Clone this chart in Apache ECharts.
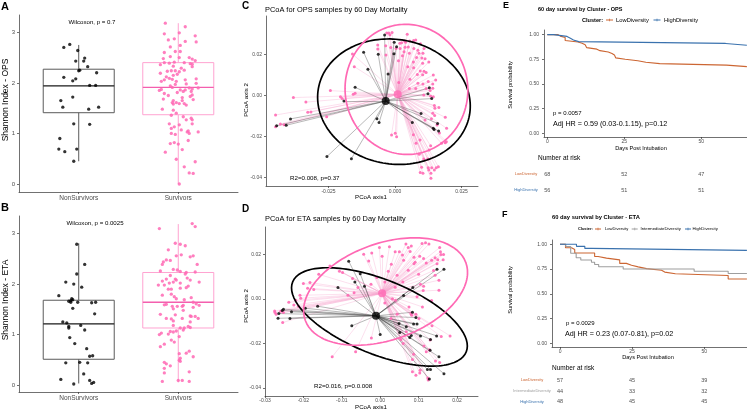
<!DOCTYPE html>
<html><head><meta charset="utf-8">
<script src="https://cdn.jsdelivr.net/npm/echarts@6/dist/echarts.min.js"></script>
<style>html,body{margin:0;padding:0;background:#fff}#c{width:747px;height:410px}</style>
</head><body><div id="c"></div>
<script>
// ================= DATA =================
const boxCategories = ['NonSurvivors', 'Survivors'];
const shannonTicks = [0, 1, 2, 3];
// box stats: [category position, min, q1, median, q3, max]
const opsBoxes = [[1, 0.45, 1.41, 1.94, 2.27, 2.75], [2, 0.00, 1.37, 1.91, 2.40, 3.18]];
const etaBoxes = [[1, 0.03, 0.51, 1.21, 1.68, 2.81], [2, 0.05, 1.13, 1.64, 2.23, 3.19]];
// jittered points: [jittered category position, Shannon index]
const opsNonSurv = [[0.85,2.70],[0.91,2.76],[0.99,2.64],[0.97,2.43],[1.05,2.43],[1.06,2.49],[1.09,2.32],[1.01,2.25],[1.00,2.24],[0.85,2.11],[0.94,2.04],[0.97,2.08],[1.18,2.20],[1.11,1.95],[1.17,1.95],[0.82,1.65],[0.94,1.72],[0.84,1.52],[1.10,1.48],[1.20,1.52],[0.95,1.19],[0.81,0.90],[1.11,1.18],[0.80,0.69],[0.86,0.64],[0.98,0.69],[0.95,0.45]];
const opsSurv = [[1.87,3.18],[2.07,3.11],[1.86,2.97],[2.01,2.99],[2.17,2.93],[1.90,2.85],[1.96,2.87],[2.18,2.81],[2.07,2.82],[1.92,2.71],[2.02,2.74],[1.97,2.62],[1.86,2.60],[2.02,2.62],[1.92,2.52],[1.85,2.48],[2.01,2.50],[2.11,2.50],[2.14,2.47],[2.17,2.44],[1.86,2.40],[1.91,2.39],[1.96,2.41],[2.06,2.40],[2.12,2.38],[2.14,2.37],[2.14,2.32],[1.82,2.36],[1.95,2.33],[2.03,2.29],[2.06,2.25],[1.97,2.24],[2.01,2.22],[1.93,2.24],[1.89,2.23],[1.82,2.19],[1.88,2.12],[1.91,2.09],[1.95,2.15],[1.99,2.17],[1.94,2.07],[1.86,2.06],[2.18,2.08],[1.83,2.03],[1.98,2.03],[2.07,2.06],[1.97,1.97],[2.08,1.98],[2.18,1.99],[2.11,1.90],[2.20,1.90],[1.92,1.94],[1.94,1.91],[1.83,1.87],[1.81,1.85],[2.14,1.88],[2.02,1.86],[2.07,1.86],[2.05,1.83],[1.86,1.79],[1.90,1.75],[1.99,1.81],[2.04,1.71],[2.13,1.83],[2.12,1.73],[2.15,1.67],[2.14,1.76],[1.95,1.65],[2.04,1.65],[1.85,1.68],[1.94,1.61],[1.98,1.61],[2.01,1.59],[2.06,1.59],[1.95,1.58],[1.84,1.48],[1.95,1.46],[2.08,1.56],[1.98,1.40],[2.08,1.27],[2.05,1.33],[1.93,1.36],[2.13,1.30],[2.14,1.27],[1.91,1.19],[2.01,1.17],[1.93,1.10],[1.96,1.13],[2.14,1.19],[2.10,1.05],[1.93,1.00],[2.03,1.07],[2.09,1.03],[2.11,1.00],[2.20,1.03],[1.97,0.98],[2.10,0.86],[1.96,0.82],[1.92,0.80],[2.00,0.79],[2.04,0.68],[1.87,0.63],[1.98,0.49],[2.17,0.44],[2.06,0.34],[2.11,0.22],[2.15,0.21],[2.01,0.00]];
const etaNonSurv = [[0.98,2.79],[1.06,2.39],[0.98,2.20],[0.87,2.04],[0.95,2.00],[1.03,1.94],[0.80,1.77],[0.93,1.71],[0.94,1.69],[0.92,1.67],[0.92,1.64],[0.99,1.64],[0.90,1.66],[1.13,1.63],[1.17,1.64],[0.94,1.52],[1.16,1.41],[0.84,1.25],[0.88,1.23],[0.90,1.13],[0.90,1.16],[1.02,1.18],[0.91,0.94],[1.06,1.09],[0.96,0.82],[1.08,0.72],[1.14,0.58],[1.11,0.57],[0.87,0.44],[1.01,0.45],[1.09,0.44],[1.05,0.22],[0.82,0.11],[1.11,0.09],[1.15,0.05],[1.13,0.03],[0.95,0.02]];
const etaSurv = [[2.14,3.20],[2.17,3.14],[1.81,3.10],[1.97,2.81],[2.02,2.79],[2.07,2.76],[1.90,2.68],[1.85,2.44],[1.84,2.39],[1.88,2.48],[1.92,2.47],[2.03,2.58],[1.98,2.56],[2.12,2.54],[2.15,2.56],[2.19,2.39],[1.95,2.29],[1.99,2.28],[2.07,2.20],[2.08,2.23],[2.17,2.24],[2.02,2.25],[1.82,2.26],[1.92,2.17],[1.97,2.10],[1.88,2.10],[1.98,2.08],[2.09,2.12],[2.12,2.08],[1.84,2.06],[1.95,2.04],[1.91,2.02],[2.02,2.02],[1.86,1.98],[1.80,1.98],[2.21,2.04],[2.02,1.92],[2.08,1.93],[2.10,1.96],[1.90,1.90],[1.93,1.90],[1.93,1.80],[1.84,1.78],[1.96,1.75],[1.98,1.71],[2.06,1.69],[2.13,1.73],[1.86,1.59],[1.94,1.56],[1.99,1.56],[2.04,1.56],[2.05,1.58],[1.88,1.60],[2.15,1.64],[2.21,1.58],[2.18,1.61],[2.15,1.54],[1.95,1.51],[2.05,1.48],[1.82,1.40],[1.97,1.39],[2.12,1.37],[2.13,1.36],[2.17,1.36],[2.20,1.32],[2.12,1.25],[2.04,1.32],[1.88,1.32],[1.93,1.31],[1.95,1.27],[1.95,1.18],[2.02,1.13],[2.10,1.16],[1.83,1.03],[1.90,1.01],[1.95,1.05],[1.92,1.06],[1.98,1.07],[2.01,0.96],[2.06,1.13],[2.12,1.14],[2.05,1.09],[1.81,1.00],[1.96,0.85],[1.82,0.76],[1.86,0.81],[1.93,0.89],[2.01,0.62],[2.08,0.63],[2.11,0.67],[2.02,0.53],[2.15,0.56],[1.86,0.45],[1.88,0.42],[2.01,0.49],[2.02,0.47],[1.92,0.38],[1.86,0.33],[1.86,0.24],[2.11,0.26],[2.00,0.09],[2.11,0.07],[1.84,0.07],[2.04,0.09]];

// PCoA OPS
const opsPcoaTicksX = [-0.025, 0, 0.025];
const opsPcoaTicksY = [-0.04, -0.02, 0, 0.02];
const opsPcoaNon = [[-0.0039,0.0294],[-0.0003,0.0259],[0.0006,0.0237],[-0.0004,0.0203],[-0.0118,0.0210],[-0.0063,0.0200],[-0.0102,0.0127],[-0.0026,0.0104],[-0.0150,0.0039],[0.0129,0.0037],[0.0124,0.0008],[-0.0192,-0.0028],[0.0138,-0.0016],[0.0098,-0.0089],[-0.0393,-0.0115],[-0.0445,-0.0148],[-0.0409,-0.0146],[-0.0068,-0.0114],[-0.0060,-0.0133],[0.0065,-0.0132],[0.0144,-0.0161],[0.0147,-0.0167],[0.0160,-0.0137],[0.0164,-0.0174],[-0.0256,-0.0299],[-0.0164,-0.0309]];
const opsPcoaSurv = [[-0.0031,0.0304],[-0.0023,0.0304],[-0.0011,0.0307],[-0.0019,0.0296],[0.0046,0.0298],[-0.0065,0.0246],[0.0036,0.0265],[0.0055,0.0265],[0.0070,0.0268],[0.0078,0.0270],[0.0018,0.0254],[0.0025,0.0257],[0.0040,0.0259],[0.0096,0.0252],[-0.0065,0.0226],[-0.0035,0.0242],[-0.0016,0.0233],[0.0004,0.0229],[0.0019,0.0228],[0.0038,0.0234],[0.0050,0.0236],[0.0071,0.0228],[0.0086,0.0220],[0.0109,0.0228],[-0.0160,0.0202],[0.0034,0.0213],[0.0054,0.0205],[0.0090,0.0205],[0.0105,0.0205],[-0.0034,0.0197],[0.0028,0.0193],[0.0081,0.0185],[0.0101,0.0182],[0.0113,0.0179],[0.0013,0.0169],[0.0069,0.0163],[0.0104,0.0156],[0.0127,0.0163],[-0.0153,0.0140],[0.0048,0.0140],[0.0070,0.0135],[0.0095,0.0119],[0.0109,0.0117],[0.0084,0.0102],[0.0104,0.0101],[0.0117,0.0111],[0.0056,0.0078],[0.0125,0.0068],[0.0144,0.0099],[0.0014,0.0062],[0.0086,0.0059],[0.0105,0.0055],[0.0142,0.0055],[0.0153,0.0075],[0.0054,0.0033],[0.0078,0.0033],[0.0117,0.0033],[0.0132,0.0024],[0.0142,0.0034],[-0.0243,0.0023],[-0.0205,-0.0007],[-0.0199,-0.0015],[-0.0157,0.0005],[-0.0150,0.0010],[0.0108,0.0002],[0.0134,-0.0003],[0.0144,-0.0007],[-0.0382,-0.0011],[-0.0335,-0.0033],[-0.0328,-0.0083],[-0.0316,-0.0081],[-0.0257,-0.0104],[-0.0449,-0.0096],[-0.0449,-0.0153],[-0.0431,-0.0140],[-0.0417,-0.0143],[0.0148,-0.0049],[0.0150,-0.0063],[0.0165,-0.0059],[0.0142,-0.0088],[0.0149,-0.0098],[0.0137,-0.0114],[0.0189,-0.0107],[0.0113,-0.0120],[0.0158,-0.0145],[0.0194,-0.0161],[0.0167,-0.0184],[0.0001,-0.0185],[-0.0013,-0.0193],[0.0006,-0.0202],[0.0069,-0.0192],[0.0094,-0.0218],[0.0079,-0.0234],[0.0175,-0.0234],[0.0189,-0.0231],[0.0193,-0.0226],[0.0134,-0.0246],[0.0128,-0.0267],[0.0091,-0.0288],[0.0108,-0.0311],[0.0123,-0.0311],[0.0138,-0.0353],[0.0125,-0.0353],[0.0100,-0.0351],[0.0155,-0.0353],[0.0095,-0.0376],[0.0105,-0.0380],[0.0127,-0.0364],[0.0135,-0.0380],[0.0135,-0.0405],[0.0163,-0.0348],[0.0148,-0.0364]];
const opsCentroids = [[-0.0035, -0.0028], [0.0010, 0.0005]];
// ellipse: [centerX, centerY, axis1X, axis1Y, axis2X, axis2Y]
const opsEllipses = [[-0.0004, -0.0031, 0.0284, -0.0065, 0.0041, 0.0299], [0.0043, 0.0029, 0.0228, 0.0046, -0.0036, 0.0314]];
const opsStat = 'R2=0.008, p=0.37';

// PCoA ETA
const etaPcoaTicksX = [-0.03, -0.02, -0.01, 0, 0.01, 0.02];
const etaPcoaTicksY = [-0.04, -0.02, 0, 0.02];
const etaPcoaNon = [[-0.0082,0.0169],[-0.0052,0.0113],[-0.0066,0.0076],[-0.0041,0.0057],[-0.0110,0.0051],[-0.0163,-0.0033],[-0.0195,-0.0042],[-0.0252,-0.0046],[-0.0255,-0.0052],[-0.0231,-0.0058],[-0.0264,-0.0066],[-0.0266,-0.0087],[-0.0235,-0.0088],[-0.0074,-0.0121],[0.0000,-0.0160],[0.0061,0.0015],[0.0085,0.0051],[0.0148,0.0133],[0.0166,0.0133],[0.0084,-0.0060],[0.0093,-0.0084],[0.0049,-0.0110],[0.0068,-0.0125],[0.0051,-0.0151],[0.0077,-0.0173],[0.0105,-0.0167],[0.0081,-0.0164],[0.0096,-0.0113],[0.0087,-0.0113],[0.0131,-0.0182],[0.0147,-0.0166],[0.0130,-0.0231],[0.0131,-0.0317],[0.0123,-0.0317],[0.0128,-0.0360],[0.0166,-0.0336],[0.0153,-0.0260]];
const etaPcoaSurv = [[-0.0002,0.0230],[0.0024,0.0234],[0.0067,0.0246],[0.0073,0.0231],[0.0081,0.0237],[0.0078,0.0213],[0.0109,0.0248],[0.0118,0.0252],[0.0127,0.0246],[0.0155,0.0230],[0.0157,0.0211],[0.0158,0.0199],[-0.0043,0.0200],[-0.0022,0.0206],[0.0005,0.0191],[0.0050,0.0211],[0.0039,0.0211],[0.0058,0.0197],[0.0088,0.0187],[0.0103,0.0191],[0.0143,0.0185],[0.0150,0.0176],[0.0164,0.0176],[0.0165,0.0199],[0.0134,0.0173],[0.0120,0.0161],[0.0113,0.0181],[0.0091,0.0164],[0.0061,0.0173],[0.0029,0.0155],[-0.0030,0.0170],[-0.0131,0.0148],[-0.0106,0.0124],[-0.0098,0.0118],[-0.0160,0.0110],[-0.0183,0.0073],[-0.0200,0.0069],[-0.0173,0.0042],[-0.0189,0.0048],[-0.0209,0.0016],[-0.0207,0.0003],[-0.0220,-0.0006],[-0.0225,-0.0028],[-0.0238,-0.0015],[-0.0213,-0.0033],[-0.0084,0.0016],[-0.0068,0.0028],[-0.0072,0.0091],[-0.0058,0.0051],[-0.0024,0.0066],[0.0012,0.0076],[0.0039,0.0052],[0.0113,0.0057],[0.0153,0.0084],[0.0139,0.0127],[0.0143,0.0106],[0.0105,0.0066],[0.0112,0.0037],[0.0096,0.0010],[0.0134,-0.0007],[0.0153,0.0039],[0.0110,-0.0036],[0.0080,-0.0067],[0.0093,-0.0069],[-0.0275,-0.0054],[-0.0274,-0.0061],[-0.0259,-0.0055],[-0.0252,-0.0061],[-0.0254,-0.0106],[-0.0271,-0.0069],[-0.0023,-0.0175],[-0.0064,-0.0237],[-0.0125,-0.0260],[0.0068,-0.0148],[0.0054,-0.0182],[0.0060,-0.0200],[0.0135,-0.0121],[0.0130,-0.0185],[0.0159,-0.0169],[0.0182,-0.0166],[0.0120,-0.0237],[0.0144,-0.0279],[0.0155,-0.0285],[0.0104,-0.0320],[0.0093,-0.0343],[0.0103,-0.0333],[0.0084,-0.0327],[0.0125,-0.0364],[0.0124,-0.0355],[0.0114,-0.0211],[0.0128,-0.0228],[0.0087,-0.0248],[0.0084,-0.0272],[0.0101,-0.0088],[0.0082,-0.0073],[0.0075,-0.0036],[0.0044,-0.0069],[0.0028,-0.0088],[0.0012,-0.0019],[0.0040,-0.0006],[0.0032,0.0000],[0.0100,0.0110],[0.0148,0.0158],[0.0021,0.0124],[0.0044,0.0106],[0.0073,0.0128],[0.0088,0.0158],[0.0059,0.0076],[-0.0009,0.0096]];
const etaCentroids = [[-0.0011, -0.0076], [0.0005, 0.0025]];
const etaEllipses = [[-0.0002, -0.0081, 0.0226, -0.0157, 0.00365, 0.0155], [0.0014, 0.0033, 0.0209, 0.0130, -0.00435, 0.0203]];
const etaStat = 'R2=0.016, p=0.0.008';

// Kaplan-Meier: [day, survival probability]
const kmTicksX = [0, 25, 50];
const kmTicksY = [0, 0.25, 0.5, 0.75, 1];
const opsGroups = ['LowDiversity', 'HighDiversity'];
const opsKM = [
  [[0,1],[3.5,0.985],[4.2,0.971],[5.8,0.941],[6.4,0.926],[10,0.912],[11.3,0.897],[12.3,0.882],[12.8,0.868],[13.2,0.853],[16.1,0.838],[17.1,0.824],[19.8,0.809],[21,0.794],[21.8,0.779],[22.2,0.765],[22.6,0.750],[25.3,0.735],[29.4,0.721],[32,0.706],[36.5,0.691],[58.2,0.676],[64.8,0.676]],
  [[0,1],[2,0.982],[6.4,0.964],[7.5,0.946],[8.5,0.929],[10.2,0.911],[57.9,0.893],[64.8,0.893]]
];
const opsRiskTimes = [0, 25, 50];
const opsRisk = [[68, 52, 47], [56, 51, 51]];
const opsPText = 'p = 0.0057';
const opsHR = 'Adj HR = 0.59 (0.03-0.1.15), p=0.12';

const etaGroups = ['LowDiversity', 'IntermediateDiversity', 'HighDiversity'];
const etaKM = [
  [[0,1],[1.9,0.965],[4,0.947],[5.1,0.912],[12,0.877],[13.2,0.860],[16.1,0.842],[20.7,0.807],[23,0.789],[24.8,0.772],[27.1,0.754],[30,0.737],[35.2,0.719],[36.3,0.702],[40,0.684],[58.3,0.649],[64.8,0.649]],
  [[0,1],[2,0.977],[3.7,0.909],[5.6,0.864],[7.2,0.841],[10.9,0.818],[12,0.795],[13.4,0.773],[21.9,0.750],[46.5,0.727],[58.3,0.705],[64.8,0.705]],
  [[0,1],[5.7,0.979],[8.6,0.958],[10.9,0.938],[64.8,0.938]]
];
const etaRiskTimes = [0, 25, 50];
const etaRisk = [[57, 45, 39], [44, 33, 32], [48, 45, 45]];
const etaPText = 'p = 0.0029';
const etaHR = 'Adj HR = 0.23 (0.07-0.81), p=0.02';

// ================= STYLE / BUILD =================
const FF = '"Liberation Sans", Arial, Helvetica, sans-serif';
const BLACK = '#000000', PINK = '#FF69B4';
const GROUP_COL = {LowDiversity: '#CC6633', IntermediateDiversity: '#9E9E9E', HighDiversity: '#3A72AE'};
const AX = '#333333';

function vAxis(gi, min, max, ticks, fmt, fs, margin, extra) {
  return Object.assign({
    type: 'value', gridIndex: gi, min: min, max: max,
    axisLine: {show: true, onZero: false, lineStyle: {color: AX, width: 0.7}},
    axisTick: {show: true, length: 2, customValues: ticks, lineStyle: {color: AX, width: 0.7}},
    axisLabel: {show: true, customValues: ticks, formatter: fmt, fontSize: fs, color: '#4d4d4d', fontFamily: FF, margin: margin},
    splitLine: {show: false}
  }, extra || {});
}
function hiddenAxis(gi, min, max) {
  return {type: 'value', gridIndex: gi, min: min, max: max, show: false, splitLine: {show: false}};
}
function ellipsePts(e) {
  const pts = [];
  for (let i = 0; i <= 160; i++) {
    const t = i / 160 * 2 * Math.PI;
    pts.push([e[0] + e[2] * Math.cos(t) + e[4] * Math.sin(t), e[1] + e[3] * Math.cos(t) + e[5] * Math.sin(t)]);
  }
  return pts;
}
function boxSeries(ai, boxes, strokes, medians) {
  return {
    type: 'custom', xAxisIndex: ai, yAxisIndex: ai, data: boxes, silent: true,
    encode: {x: 0, y: [1, 2, 3, 4, 5]},
    renderItem: function (params, api) {
      const i = params.dataIndex, x = api.value(0);
      const pMin = api.coord([x, api.value(1)]), pQ1 = api.coord([x, api.value(2)]);
      const pMed = api.coord([x, api.value(3)]), pQ3 = api.coord([x, api.value(4)]);
      const pMax = api.coord([x, api.value(5)]);
      const hw = 35.5, c = strokes[i];
      return {type: 'group', children: [
        {type: 'line', shape: {x1: pMin[0], y1: pMin[1], x2: pQ1[0], y2: pQ1[1]}, style: {stroke: c, lineWidth: 1}},
        {type: 'line', shape: {x1: pQ3[0], y1: pQ3[1], x2: pMax[0], y2: pMax[1]}, style: {stroke: c, lineWidth: 1}},
        {type: 'rect', shape: {x: pQ3[0] - hw, y: pQ3[1], width: 2 * hw, height: pQ1[1] - pQ3[1]}, style: {fill: 'none', stroke: c, lineWidth: 1}},
        {type: 'line', shape: {x1: pMed[0] - hw, y1: pMed[1], x2: pMed[0] + hw, y2: pMed[1]}, style: {stroke: medians[i], lineWidth: 1.3}}
      ]};
    }
  };
}
function T(text, x, y, size, o) {
  o = o || {};
  const al = o.align || 'left', va = o.va || 'middle';
  return {type: 'text', x: x, y: y, rotation: o.rot || 0, silent: true, z: 100,
    style: {text: text, font: (o.bold ? 'bold ' : '') + size + 'px ' + FF, fill: o.color || '#000',
      textAlign: al, textVerticalAlign: va, align: al, verticalAlign: va}};
}
function keyMark(cx, cy, color, hw) {
  return [
    {type: 'line', silent: true, z: 100, shape: {x1: cx - hw, y1: cy, x2: cx + hw, y2: cy}, style: {stroke: color, lineWidth: 1}},
    {type: 'line', silent: true, z: 100, shape: {x1: cx, y1: cy - 1.3, x2: cx, y2: cy + 1.3}, style: {stroke: color, lineWidth: 0.7}}
  ];
}

// grids: 0 A, 1 B, 2 C, 3 D, 4 E, 5 F, 6 E-risk, 7 F-risk
const grid = [
  {left: 19, top: 15, width: 219, height: 177},
  {left: 19, top: 216, width: 219, height: 176},
  {left: 266, top: 16, width: 212, height: 170},
  {left: 265, top: 227, width: 213, height: 169},
  {left: 544, top: 30, width: 203, height: 107},
  {left: 552, top: 240, width: 195, height: 107},
  {left: 544, top: 166, width: 203, height: 32},
  {left: 552, top: 375, width: 195, height: 32}
];
const catFmt = v => boxCategories[Math.round(v) - 1];
const f2 = v => (Math.abs(v) < 1e-9 ? '0.00' : v.toFixed(2));
const f3 = v => (Math.abs(v) < 1e-9 ? '0.000' : v.toFixed(3));

const xAxis = [
  vAxis(0, 0.4, 2.6, [1, 2], catFmt, 6.5, 2.5),
  vAxis(1, 0.4, 2.6, [1, 2], catFmt, 6.5, 2.5),
  vAxis(2, -0.0485, 0.0312, opsPcoaTicksX, f3, 5, 3),
  vAxis(3, -0.0300, 0.02547, etaPcoaTicksX, f2, 5, 2),
  vAxis(4, -1.07, 64.84, kmTicksX, v => String(v), 5, 2.5),
  vAxis(5, -2.78, 64.83, kmTicksX, v => String(v), 5, 2.5),
  hiddenAxis(6, -1.07, 64.84),
  hiddenAxis(7, -2.78, 64.83)
];
function riskY(gi, groups, margin) {
  return {type: 'category', gridIndex: gi, data: groups, inverse: true,
    axisLine: {show: false}, axisTick: {show: false}, splitLine: {show: false},
    axisLabel: {show: true, fontSize: 4, fontFamily: FF, align: 'center', margin: margin,
      color: (val) => GROUP_COL[val]}};
}
const yAxis = [
  vAxis(0, -0.158, 3.342, shannonTicks, v => String(v), 6, 4),
  vAxis(1, -0.139, 3.35, shannonTicks, v => String(v), 6, 4),
  vAxis(2, -0.04423, 0.0387, opsPcoaTicksY, f2, 5, 4),
  vAxis(3, -0.04357, 0.03224, etaPcoaTicksY, f2, 5, 4),
  vAxis(4, -0.037, 1.047, kmTicksY, f2, 5, 5),
  vAxis(5, -0.037, 1.043, kmTicksY, f2, 5, 5),
  riskY(6, opsGroups, 18),
  riskY(7, etaGroups, 20)
];

const series = [];
// --- A & B boxplots ---
[[0, opsBoxes, opsNonSurv, opsSurv], [1, etaBoxes, etaNonSurv, etaSurv]].forEach(([ai, boxes, non, surv]) => {
  series.push(boxSeries(ai, boxes, ['#5a5a5a', '#FFA3D1'], ['#1a1a1a', '#F45FAE']));
  series.push({type: 'scatter', xAxisIndex: ai, yAxisIndex: ai, data: non, symbolSize: 3.3, silent: true,
    itemStyle: {color: BLACK}});
  series.push({type: 'scatter', xAxisIndex: ai, yAxisIndex: ai, data: surv, symbolSize: 3.3, silent: true,
    itemStyle: {color: PINK, opacity: 0.85}});
});
// --- C & D PCoA ---
[[2, opsPcoaNon, opsPcoaSurv, opsCentroids, opsEllipses], [3, etaPcoaNon, etaPcoaSurv, etaCentroids, etaEllipses]].forEach(([ai, non, surv, cen, ell]) => {
  series.push({type: 'lines', coordinateSystem: 'cartesian2d', xAxisIndex: ai, yAxisIndex: ai, silent: true,
    data: surv.map(p => ({coords: [p, cen[1]]})), lineStyle: {color: '#F6A5CF', width: 0.5, opacity: 0.7}});
  series.push({type: 'lines', coordinateSystem: 'cartesian2d', xAxisIndex: ai, yAxisIndex: ai, silent: true,
    data: non.map(p => ({coords: [p, cen[0]]})), lineStyle: {color: '#444', width: 0.5, opacity: 0.75}});
  series.push({type: 'scatter', xAxisIndex: ai, yAxisIndex: ai, data: surv, symbolSize: 3, silent: true,
    itemStyle: {color: PINK, opacity: 0.9}});
  series.push({type: 'scatter', xAxisIndex: ai, yAxisIndex: ai, data: non, symbolSize: 3, silent: true,
    itemStyle: {color: BLACK}});
  series.push({type: 'line', xAxisIndex: ai, yAxisIndex: ai, data: ellipsePts(ell[0]), symbol: 'none', silent: true,
    lineStyle: {color: BLACK, width: 1.7}});
  series.push({type: 'line', xAxisIndex: ai, yAxisIndex: ai, data: ellipsePts(ell[1]), symbol: 'none', silent: true,
    lineStyle: {color: PINK, width: 1.7}});
  series.push({type: 'scatter', xAxisIndex: ai, yAxisIndex: ai, data: [cen[0]], symbolSize: 8, silent: true, itemStyle: {color: BLACK}});
  series.push({type: 'scatter', xAxisIndex: ai, yAxisIndex: ai, data: [cen[1]], symbolSize: 8, silent: true, itemStyle: {color: PINK}});
});
// --- E & F KM ---
[[4, 6, opsGroups, opsKM, opsRiskTimes, opsRisk], [5, 7, etaGroups, etaKM, etaRiskTimes, etaRisk]].forEach(([ai, ri, groups, km, times, risk]) => {
  groups.forEach((g, gi) => {
    series.push({type: 'line', xAxisIndex: ai, yAxisIndex: ai, step: 'end', data: km[gi], symbol: 'none', silent: true,
      lineStyle: {color: GROUP_COL[g], width: 1.1}});
    series.push({type: 'scatter', xAxisIndex: ri, yAxisIndex: ri, silent: true, symbolSize: 1,
      itemStyle: {color: 'rgba(0,0,0,0)'},
      data: times.map((t, k) => [t, g, risk[gi][k]]),
      label: {show: true, position: 'inside', formatter: p => String(p.value[2]), fontSize: 5.5, fontFamily: FF, color: '#222'}});
  });
});

// --- text ---
const graphic = [
  T('A', 1, 1, 11, {bold: true, va: 'top'}),
  T('B', 1, 202, 11, {bold: true, va: 'top'}),
  T('C', 242, 1, 10, {bold: true, va: 'top'}),
  T('D', 242, 204, 10, {bold: true, va: 'top'}),
  T('E', 503, 1, 9, {bold: true, va: 'top'}),
  T('F', 502, 210, 9, {bold: true, va: 'top'}),
  T('Wilcoxon, p = 0.7', 92, 22, 6.1, {align: 'center'}),
  T('Wilcoxon, p = 0.0025', 95, 223, 6.1, {align: 'center'}),
  T('Shannon Index - OPS', 6, 100, 8.5, {align: 'center', rot: Math.PI / 2}),
  T('Shannon Index - ETA', 6, 300, 8.5, {align: 'center', rot: Math.PI / 2}),
  T('PCoA for OPS samples by 60 Day Mortality', 265, 10, 7.4),
  T('PCoA for ETA samples by 60 Day Mortality', 265, 219, 7.4),
  T(opsStat, 290, 178, 6.2),
  T(etaStat, 314, 386, 6.2),
  T('PCoA axis1', 371, 197, 6.1, {align: 'center'}),
  T('PCoA axis1', 371, 407, 6.1, {align: 'center'}),
  T('PCoA axis 2', 246, 100, 6.1, {align: 'center', rot: Math.PI / 2}),
  T('PCoA axis 2', 246, 306, 6.1, {align: 'center', rot: Math.PI / 2}),
  T('60 day survival by Cluster - OPS', 538, 9, 5.5, {bold: true}),
  T('60 day survival by Cluster - ETA', 552, 217, 5.8, {bold: true}),
  T('Survival probability', 510, 85, 5.7, {align: 'center', rot: Math.PI / 2}),
  T('Survival probability', 510, 290, 5.7, {align: 'center', rot: Math.PI / 2}),
  T('Days Post Intubation', 641, 148, 5.6, {align: 'center'}),
  T('Days Post Intubation', 648, 357, 5.6, {align: 'center'}),
  T(opsPText, 553, 113, 6),
  T(opsHR, 553, 124, 7.2),
  T(etaPText, 566, 323, 6),
  T(etaHR, 565, 334, 7.2),
  T('Number at risk', 538, 158, 6.5),
  T('Number at risk', 552, 368, 6.5),
  // legends
  T('Cluster:', 582, 20, 5.6, {bold: true}),
  ...keyMark(609.5, 20, GROUP_COL[opsGroups[0]], 3.5),
  T(opsGroups[0], 616, 20, 5.8),
  ...keyMark(657, 20, GROUP_COL[opsGroups[1]], 3.5),
  T(opsGroups[1], 664, 20, 5.8),
  T('Cluster:', 578, 229, 3.9, {bold: true}),
  ...keyMark(598, 229, GROUP_COL[etaGroups[0]], 3),
  T(etaGroups[0], 605, 229, 4.1),
  ...keyMark(634.7, 229, GROUP_COL[etaGroups[1]], 3),
  T(etaGroups[1], 640.5, 229, 4.3),
  ...keyMark(688, 229, GROUP_COL[etaGroups[2]], 3),
  T(etaGroups[2], 692.5, 229, 4.3)
];

const chart = echarts.init(document.getElementById('c'), null, {renderer: 'canvas', width: 747, height: 410});
chart.setOption({
  animation: false,
  backgroundColor: '#ffffff',
  textStyle: {fontFamily: FF},
  grid: grid, xAxis: xAxis, yAxis: yAxis, series: series, graphic: graphic
});
</script></body></html>
